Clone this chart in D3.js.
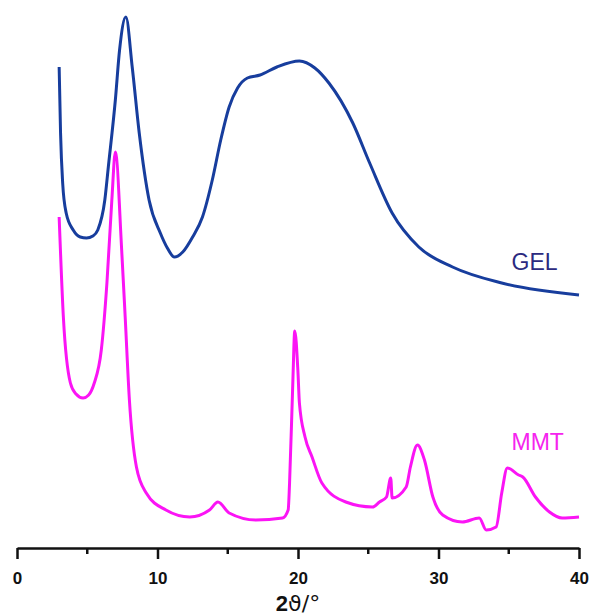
<!DOCTYPE html>
<meta charset="utf-8">
<html>
<style>
body { margin: 0; background: #fff; }
</style>
<svg width="590" height="616"></svg>
<script src="https://d3js.org/d3.v7.min.js"></script>
<script>
// 2theta (deg) and intensity (a.u.)
var gelX = [3.0, 3.1, 3.25, 3.5, 4.0, 4.5, 4.95, 5.4, 5.75, 6.25, 6.5, 7.0, 7.3, 7.75, 8.2, 8.7, 9.4, 10.2, 10.7, 11.2,
            11.8, 12.5, 13.2, 13.9, 14.5, 15.1, 15.7, 16.4, 17.3, 18.5, 20.1, 21.2, 22.2, 23.9, 25.1, 26.7, 28.6, 31.0, 34.5, 40];
var gelY = [481, 415, 365, 335, 318, 311, 310, 312, 318, 348, 381, 448, 498, 531, 481, 415, 348, 315, 300, 291,
            296, 311, 331, 368, 408, 441, 460, 470, 473, 481, 487, 480, 465, 425, 385, 335, 301, 281, 265, 253];

var mmtX = [3.0, 3.3, 3.8, 4.2, 4.7, 5.1, 5.5, 6.0, 6.4, 6.75, 7.0, 7.45, 7.7, 8.0, 8.5, 9.2, 10.6, 12.3, 13.7, 14.3, 15.1,
            17.0, 18.9, 19.3, 19.4, 19.63, 19.77, 19.99, 20.1, 20.5, 21.0, 21.7, 23.4, 25.3, 25.8, 26.3, 26.6, 26.7,
            27.7, 28.0, 28.5, 29.0, 29.6, 30.3, 31.7, 32.9, 33.4, 34.1, 34.5, 34.9, 35.7, 36.0, 36.9, 37.9, 38.8, 40];
var mmtY = [331, 231, 165, 154, 150, 153, 165, 198, 265, 348, 396, 298, 231, 148, 81, 55, 38, 31, 38, 46, 35,
            28, 30, 38, 65, 165, 217, 178, 145, 111, 91, 65, 46, 41, 46, 51, 70, 50,
            61, 81, 103, 88, 51, 33, 26, 30, 18, 21, 55, 80, 73, 71, 51, 36, 30, 31];

var xTicks = [0, 10, 20, 30, 40];
var xMinorTicks = [5, 15, 25, 35];
var seriesNames = ["GEL", "MMT"];

var svg = d3.select("svg");

var x = d3.scaleLinear().domain([0, 40]).range([17, 579]);
var y = d3.scaleLinear().domain([0, 540]).range([548, 8]);

var line = d3.line()
    .x(d => x(d[0]))
    .y(d => y(d[1]))
    .curve(d3.curveMonotoneX);

var gel = d3.zip(gelX, gelY),
    mmt = d3.zip(mmtX, mmtY);

svg.append("path")
    .datum(gel)
    .attr("d", line)
    .attr("fill", "none")
    .attr("stroke", "#173d9d")
    .attr("stroke-width", 3)
    .attr("stroke-linejoin", "round");

svg.append("path")
    .datum(mmt)
    .attr("d", line)
    .attr("fill", "none")
    .attr("stroke", "#fb14f5")
    .attr("stroke-width", 3)
    .attr("stroke-linejoin", "round");

// series labels
svg.append("text")
    .attr("x", x(35.2))
    .attr("y", y(278))
    .attr("fill", "#2c2a80")
    .style("font", "23px Arial, 'Liberation Sans', sans-serif")
    .text(seriesNames[0]);

svg.append("text")
    .attr("x", x(35.2))
    .attr("y", y(98))
    .attr("fill", "#f524ee")
    .style("font", "23px Arial, 'Liberation Sans', sans-serif")
    .text(seriesNames[1]);

// x axis
var axis = svg.append("g")
    .attr("transform", "translate(0," + y(0) + ")")
    .call(d3.axisBottom(x).tickValues(xTicks).tickSize(11).tickSizeOuter(0).tickFormat(d3.format("d")));

axis.select(".domain").attr("stroke", "#111").attr("stroke-width", 2.5);
axis.selectAll(".tick line").attr("stroke", "#111").attr("stroke-width", 2.5);
axis.selectAll(".tick text")
    .attr("fill", "#111")
    .attr("dy", null)
    .attr("y", 36)
    .attr("font-size", 17)
    .attr("font-weight", "bold")
    .attr("font-family", "Arial, 'Liberation Sans', sans-serif");

axis.selectAll(".minor")
    .data(xMinorTicks)
    .join("line")
    .attr("class", "minor")
    .attr("x1", d => x(d)).attr("x2", d => x(d))
    .attr("y1", 0).attr("y2", 6)
    .attr("stroke", "#111")
    .attr("stroke-width", 2.5);

var title = svg.append("text")
    .attr("x", x(20))
    .attr("y", 611)
    .attr("text-anchor", "middle")
    .attr("fill", "#111");
title.append("tspan")
    .style("font", "bold 22px Arial, 'Liberation Sans', sans-serif")
    .text("2");
title.append("tspan")
    .style("font", "22px 'DejaVu Sans', sans-serif")
    .text("ϑ/°");
</script>
</html>
